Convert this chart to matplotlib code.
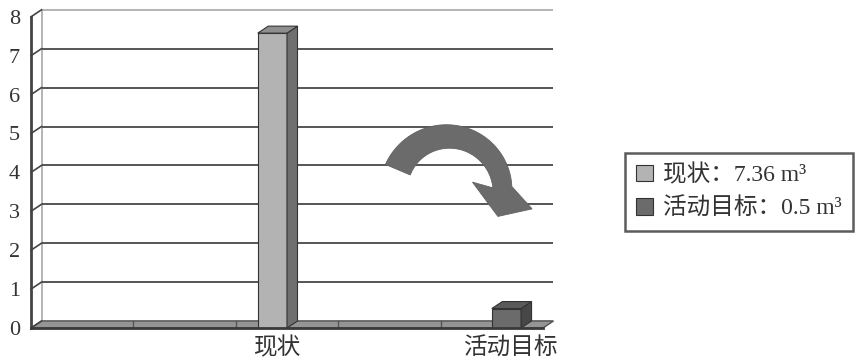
import numpy as np
import matplotlib
matplotlib.use('Agg')
import matplotlib.pyplot as plt
from matplotlib.patches import Polygon, Patch
from matplotlib.font_manager import FontProperties

# data
series_names = ['现状', '活动目标']
legend_values = ['7.36', '0.5']
current = [0, 0, 7.58, 0, 0]
target = [0, 0, 0, 0, 0.5]
y_ticks = [0, 1, 2, 3, 4, 5, 6, 7, 8]

front_colors = ('#b3b3b3', '#6b6b6b')
side_colors = ('#6f6f6f', '#474747')
top_colors = ('#8e8e8e', '#5a5a5a')

W, H = 859, 361
fig = plt.figure(figsize=(W / 100, H / 100), dpi=100)
ax = fig.add_axes([31 / W, 33 / H, 522 / W, 8.2 * 38.9 / H])
n_slots = len(current)
ax.set_xlim(0, 522 / 102.4)
ax.set_ylim(0, 8.2)
for s in ax.spines.values():
    s.set_visible(False)

# 3d depth offset in data units
dx = 10.5 / 102.4
dy = 7 / 38.9

# back wall and grid
ax.add_patch(Polygon([(dx, dy), (n_slots + dx, dy), (n_slots + dx, 8 + dy), (dx, 8 + dy)],
                     closed=True, facecolor='white', edgecolor='#a8a8a8', lw=1.2, zorder=0))
ax.hlines([v + dy for v in y_ticks[1:-1]], dx, n_slots + dx, color='#555555', lw=1.4, zorder=1)

# left axis with slanted ticks
ax.plot([0, 0], [0, 8], color='#444444', lw=2, clip_on=False, zorder=4)
for v in y_ticks:
    ax.plot([0, dx], [v, v + dy], color='#444444', lw=1.2, clip_on=False, zorder=4)

# floor
ax.add_patch(Polygon([(0, 0), (n_slots, 0), (n_slots + dx, dy), (dx, dy)], closed=True,
                     facecolor='#959595', edgecolor='#555555', lw=1, clip_on=False, zorder=2))
ax.plot([0, n_slots], [0, 0], color='#3a3a3a', lw=2, clip_on=False, zorder=4)
for k in range(1, n_slots):
    ax.plot([k, k], [0, dy], color='#555555', lw=1, zorder=2)

# bars (clustered, gap width 150%)
w = 1 / 3.5
label_pos, label_txt = [], []
for i, vals in enumerate([current, target]):
    lefts = [k + 0.75 / 3.5 + i * w for k in range(n_slots)]
    for x0, h in zip(lefts, vals):
        if h <= 0:
            continue
        ax.bar(x0, h, width=w, align='edge', color=front_colors[i], edgecolor='#333333', lw=0.8, zorder=3)
        ax.add_patch(Polygon([(x0 + w, 0), (x0 + w + dx, dy), (x0 + w + dx, h + dy), (x0 + w, h)],
                             closed=True, facecolor=side_colors[i], edgecolor='#333333', lw=0.8, zorder=3))
        ax.add_patch(Polygon([(x0, h), (x0 + w, h), (x0 + w + dx, h + dy), (x0 + dx, h + dy)],
                             closed=True, facecolor=top_colors[i], edgecolor='#333333', lw=0.8, zorder=3))
        label_pos.append(x0 + w / 2 + dx / 2)
        label_txt.append(series_names[i])

ax.set_yticks(y_ticks)
ax.set_yticklabels([str(v) for v in y_ticks], fontsize=16, family='Liberation Serif', color='#333333')
ax.tick_params(axis='y', length=0, pad=8)
ax.set_xticks(label_pos)
ax.set_xticklabels(label_txt, fontsize=17, family='Noto Sans CJK SC', color='#333333')
ax.tick_params(axis='x', length=0, pad=6)

# curved arrow (circular band + head), drawn in pixel space
cx, cy = 448, H - 191
th = np.radians(np.linspace(157, 4, 60))
r_in = np.linspace(41, 45, th.size)
r_out = np.linspace(68, 64, th.size)
outer = np.column_stack([cx + r_out * np.cos(th), cy + r_out * np.sin(th)])
inner = np.column_stack([cx + r_in * np.cos(th), cy + r_in * np.sin(th)])[::-1]

def polar(r, deg):
    return [cx + r * np.cos(np.radians(deg)), cy + r * np.sin(np.radians(deg))]

head = np.array([polar(86, -12), polar(56, -27), polar(26, 20)])
pts = np.vstack([outer, head, inner]) / [W, H]
fig.add_artist(Polygon(pts, closed=True, transform=fig.transFigure,
                       facecolor='#6b6b6b', edgecolor='#626262', lw=0.6, zorder=5))

# legend
handles = [Patch(facecolor=front_colors[i], edgecolor='#333333', lw=0.8) for i in range(2)]
labels = [f'{n}：{v} m³' for n, v in zip(series_names, legend_values)]
leg = ax.legend(handles, labels, loc='center left', bbox_to_anchor=(625 / W, 1 - 192 / H),
                bbox_transform=fig.transFigure,
                prop=FontProperties(family=['Liberation Serif', 'Noto Sans CJK SC'], size=17),
                fancybox=False, handlelength=0.72, handleheight=0.72, handletextpad=0.45,
                labelspacing=0.5, borderpad=0.45, borderaxespad=0)
leg.get_frame().set_edgecolor('#333333')
leg.get_frame().set_linewidth(1.8)
for t in leg.get_texts():
    t.set_color('#333333')

fig.savefig('out.png', dpi=100)
